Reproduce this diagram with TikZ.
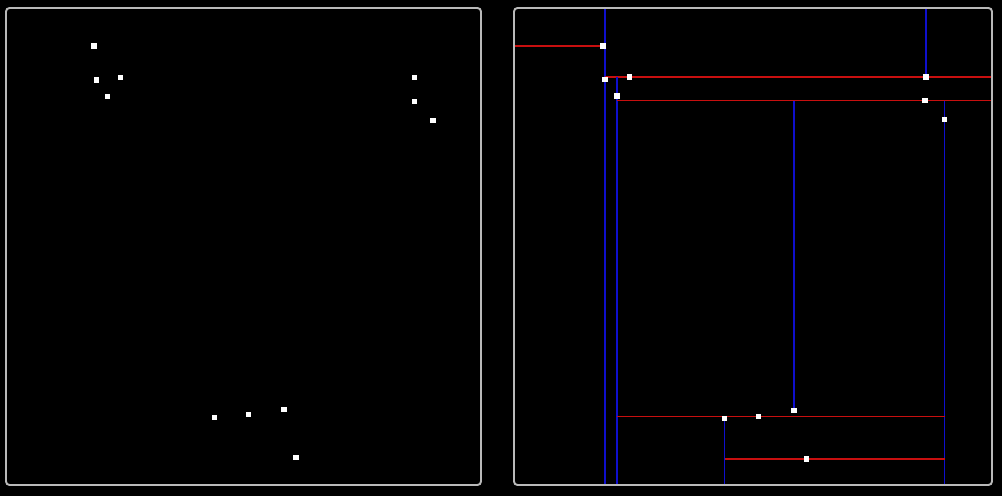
\documentclass[tikz,border=0pt]{standalone}
\usepackage{tikz}
\definecolor{kdblue}{RGB}{15,15,205}
\definecolor{kdred}{RGB}{200,15,15}
\definecolor{framegray}{RGB}{185,185,185}

\begin{document}
\begin{tikzpicture}[x=0.02cm,y=-0.02cm,
  pt/.style={fill=white,inner sep=0pt,minimum size=3pt},
  panel/.style={draw=framegray,line width=1.1pt,rounded corners=2pt},
  vsplit/.style={draw=kdblue,line width=0.85pt},
  hsplit/.style={draw=kdred,line width=0.85pt}]
\fill[black] (0,0) rectangle (1002,496);
\useasboundingbox (0,0) rectangle (1002,496);

% left panel: the points
\coordinate (LTL) at (6,8);
\coordinate (LBR) at (481,485);
\draw[panel] (LTL) rectangle (LBR);
\node[pt] (l1) at (94,46) {};
\node[pt] (l2) at (96.7,80) {};
\node[pt] (l3) at (120.7,77.3) {};
\node[pt] (l4) at (107.7,96.3) {};
\node[pt] (l5) at (414.3,77.3) {};
\node[pt] (l6) at (414.3,101.3) {};
\node[pt] (l7) at (433,120.3) {};
\node[pt] (l8) at (214.7,417.3) {};
\node[pt] (l9) at (248.7,414.7) {};
\node[pt] (l10) at (284,409.7) {};
\node[pt] (l11) at (296,457.3) {};

% right panel: the splits
\coordinate (RTL) at (514,8);
\coordinate (RBR) at (992,485);
\coordinate (r1) at (603,46);
\coordinate (r2) at (605,79.3);
\coordinate (r3) at (629.7,77);
\coordinate (r4) at (617,96);
\coordinate (r5) at (926,77);
\coordinate (r6) at (925,100.7);
\coordinate (r7) at (944.7,119.7);
\coordinate (r8) at (724.7,418.3);
\coordinate (r9) at (758.3,416.5);
\coordinate (r10) at (794,410.7);
\coordinate (r11) at (806.7,459);

\draw[vsplit] (r2 |- RTL) -- (r2 |- RBR);
\draw[hsplit] (RTL |- r1) -- (r2 |- r1);
\draw[hsplit] (r2 |- r3) -- (RBR |- r3);
\draw[vsplit] (r5 |- RTL) -- (r5);
\draw[vsplit] (r4 |- r3) -- (r4 |- RBR);
\draw[hsplit] (r4 |- r6) -- (RBR |- r6);
\draw[vsplit] (r7 |- r6) -- (r7 |- RBR);
\draw[vsplit] (r10 |- r6) -- (r10);
\draw[hsplit] (r4 |- r9) -- (r7 |- r9);
\draw[vsplit] (r8 |- r9) -- (r8 |- RBR);
\draw[hsplit] (r8 |- r11) -- (r7 |- r11);
\draw[panel] (RTL) rectangle (RBR);

\foreach \p in {1,...,11}
  \node[pt] at (r\p) {};
\end{tikzpicture}
\end{document}
